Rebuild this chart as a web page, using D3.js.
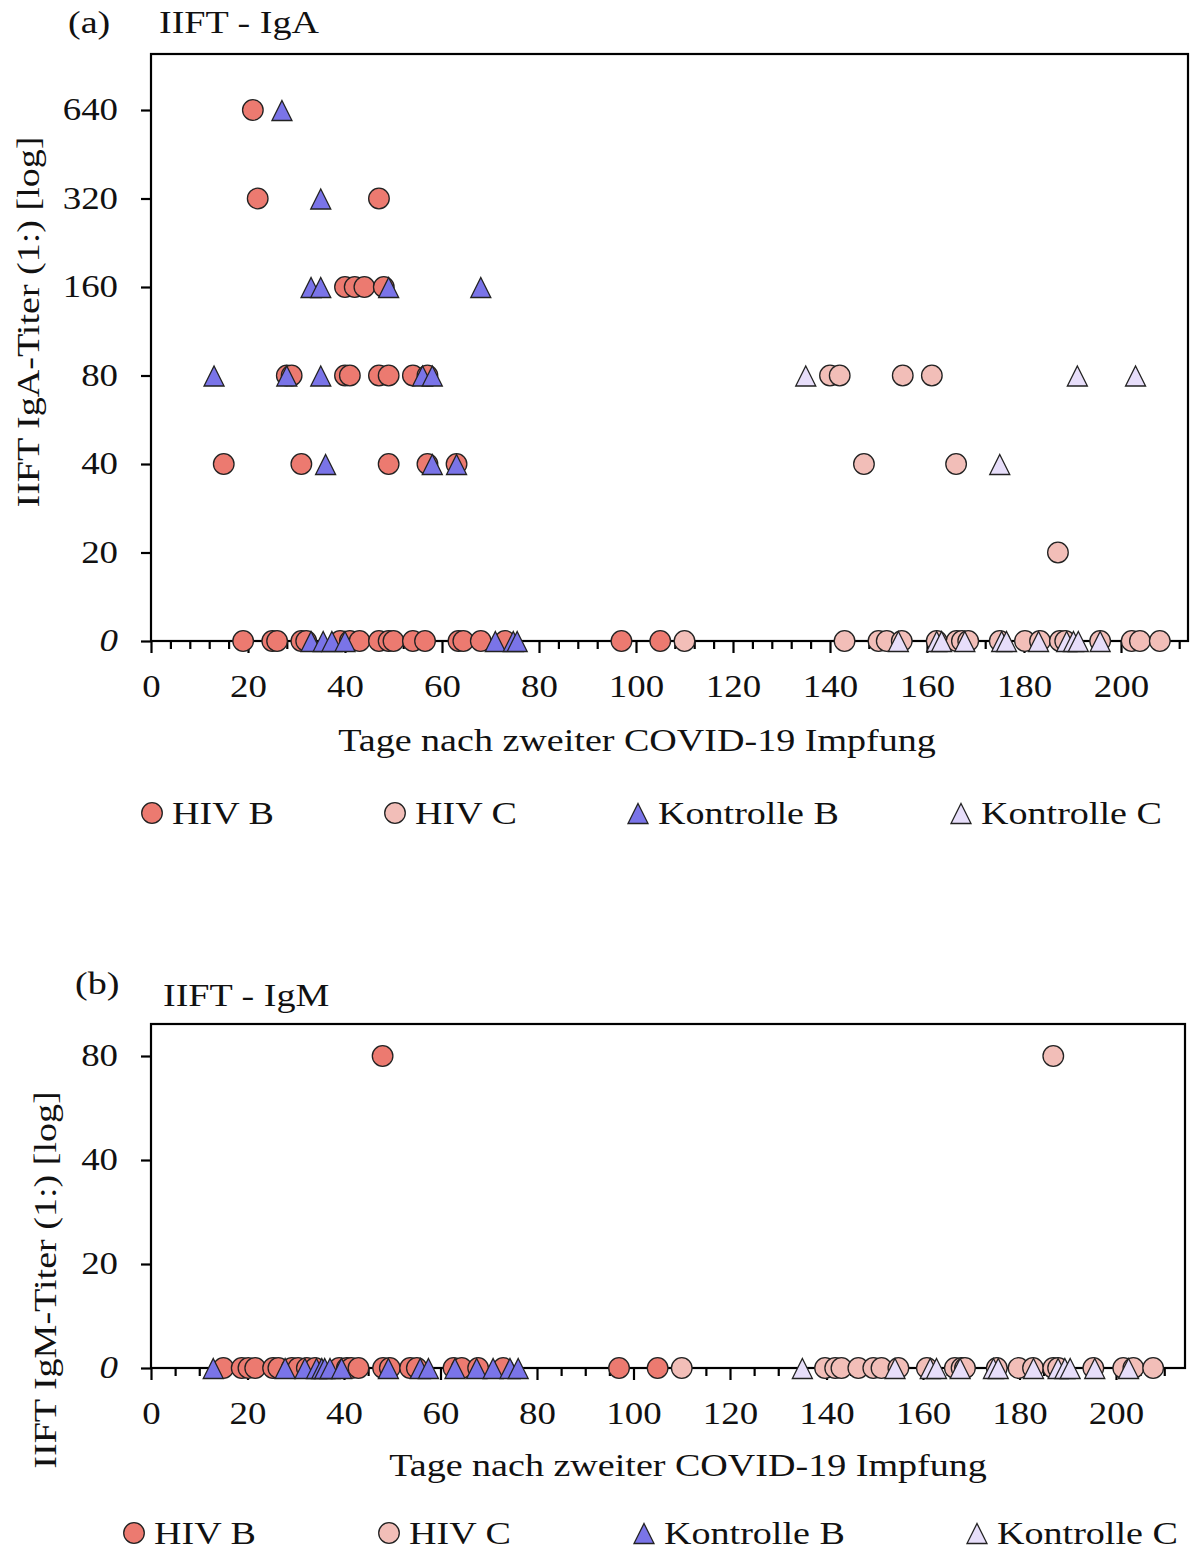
<!DOCTYPE html>
<html>
<head>
<meta charset="utf-8">
<script src="https://cdn.jsdelivr.net/npm/d3@7"></script>
<style>
  body { margin: 0; background: #fff; }
  svg { display: block; }
  text { font-family: "Liberation Serif", "DejaVu Serif", serif; fill: #111; }
</style>
</head>
<body>
<svg id="chart" width="1194" height="1551"></svg>
<script>
// Groups and their marker styles
const categories = ["HIV B", "HIV C", "Kontrolle B", "Kontrolle C"];
const groupColors = ["#EC7A70", "#F2BEB8", "#7A74E8", "#E7DEFA"];
const groupShapes = ["circle", "circle", "triangle", "triangle"];

// Axis tick values
const titerTicksA = [0, 20, 40, 80, 160, 320, 640];
const titerTicksB = [0, 20, 40, 80];
const dayTicks = [0, 20, 40, 60, 80, 100, 120, 140, 160, 180, 200];

// IgA titers: [day after second vaccination, titer]
const igaHivB = [
  [21, 640], [22, 320], [47, 320], [40, 160], [42, 160], [44, 160], [48, 160],
  [28, 80], [29, 80], [40, 80], [41, 80], [47, 80], [49, 80], [54, 80], [57, 80],
  [15, 40], [31, 40], [49, 40], [57, 40], [63, 40],
  [19, 0], [25, 0], [26, 0], [31, 0], [32, 0], [39, 0], [41, 0], [43, 0], [47, 0], [49, 0],
  [50, 0], [54, 0], [56.5, 0], [63.4, 0], [64.4, 0], [68, 0], [73, 0], [97, 0], [105, 0]
];
const igaHivC = [
  [140, 80], [142, 80], [155, 80], [161, 80], [147, 40], [166, 40], [187, 20],
  [110, 0], [143, 0], [150, 0], [151.7, 0], [154.8, 0], [162, 0], [166.1, 0], [167.2, 0],
  [168.5, 0], [175, 0], [180.2, 0], [183.3, 0], [187.4, 0], [188.5, 0], [195.7, 0],
  [202.2, 0], [203.9, 0], [208, 0]
];
const igaKontrolleB = [
  [27, 640], [35, 320], [33, 160], [35, 160], [49, 160], [68, 160],
  [13, 80], [28, 80], [35, 80], [56, 80], [58, 80], [36, 40], [58, 40], [63, 40],
  [33, 0], [35.5, 0], [37.3, 0], [40, 0], [71, 0], [74.7, 0], [75.5, 0]
];
const igaKontrolleC = [
  [135, 80], [191, 80], [203, 80], [175, 40],
  [154.1, 0], [162, 0], [163, 0], [167.8, 0], [175.4, 0], [176.4, 0], [183, 0],
  [188.8, 0], [190.2, 0], [191.2, 0], [195.7, 0]
];

// IgM titers: [day after second vaccination, titer]
const igmHivB = [
  [48, 80],
  [15, 0], [18.8, 0], [20.2, 0], [21.6, 0], [25.3, 0], [26.4, 0], [29.2, 0], [30.5, 0],
  [32.3, 0], [34, 0], [39, 0], [40.6, 0], [41.5, 0], [43, 0], [48.1, 0], [49.5, 0],
  [53.7, 0], [55.1, 0], [62.7, 0], [64.4, 0], [67.8, 0], [73, 0], [97, 0], [105, 0]
];
const igmHivC = [
  [187, 80],
  [110, 0], [139.7, 0], [141.8, 0], [143.1, 0], [146.6, 0], [149.7, 0], [151.4, 0],
  [154.9, 0], [160.8, 0], [166.6, 0], [168, 0], [168.7, 0], [175.3, 0], [179.8, 0],
  [182.8, 0], [187, 0], [188, 0], [195.3, 0], [201.5, 0], [203.6, 0], [207.7, 0]
];
const igmKontrolleB = [
  [12.9, 0], [27.8, 0], [31.9, 0], [34.3, 0], [35.4, 0], [36, 0], [37.1, 0], [39.5, 0],
  [49.2, 0], [55.8, 0], [57.5, 0], [63, 0], [67.5, 0], [70.9, 0], [74.4, 0], [76.1, 0]
];
const igmKontrolleC = [
  [135, 0], [154.2, 0], [161.5, 0], [162.8, 0], [167.7, 0], [174.6, 0], [175.6, 0],
  [182.9, 0], [188, 0], [189.4, 0], [190.5, 0], [195.6, 0], [202.6, 0]
];

// Titer dilution steps: 0 sits on the axis, 20 is the first step, each doubling one step up
const level = v => (v === 0 ? 0 : Math.log2(v / 10));

const svg = d3.select("#chart");
const FS = 31;      // font size
const SX = 1.19;    // horizontal widening of the serif lettering

function markerPath(shape) {
  if (shape === "circle") {
    return d3.symbol(d3.symbolCircle, Math.PI * 10.3 * 10.3)();
  }
  return "M0,-9.5L10,10.5L-10,10.5Z";
}

// Text placed at (x, y) and widened around its anchor
function label(g, x, y, str, opts = {}) {
  const rot = opts.rotate ? ` rotate(${opts.rotate})` : "";
  return g.append("text")
    .attr("transform", `translate(${x},${y})${rot} scale(${SX},1)`)
    .attr("text-anchor", opts.anchor || "start")
    .attr("dy", opts.dy || null)
    .attr("font-size", opts.size || FS + 1)
    .text(str);
}

function drawPanel(cfg) {
  const g = svg.append("g");
  const x = d3.scaleLinear().domain([0, cfg.xMax]).range([cfg.left, cfg.right]);
  const y = d3.scaleLinear().domain([0, cfg.levelMax]).range([cfg.zeroY, cfg.top]);

  // Frame
  g.append("rect")
    .attr("x", cfg.left).attr("y", cfg.top)
    .attr("width", cfg.right - cfg.left).attr("height", cfg.zeroY - cfg.top)
    .attr("fill", "none").attr("stroke", "#000").attr("stroke-width", 2.2);

  // Minor x ticks
  const minors = d3.range(0, cfg.xMax, cfg.minorStep).filter(d => d % 20 !== 0);
  const minorAxis = g.append("g").attr("transform", `translate(0,${cfg.zeroY})`)
    .call(d3.axisBottom(x).tickValues(minors).tickSize(8).tickFormat(""));
  minorAxis.select(".domain").remove();

  // Major x ticks with labels
  const xAxis = g.append("g").attr("transform", `translate(0,${cfg.zeroY})`)
    .call(d3.axisBottom(x).tickValues(dayTicks).tickSize(12).tickPadding(22)
      .tickFormat(d3.format("d")));
  xAxis.select(".domain").remove();

  [minorAxis, xAxis].forEach(a => a.selectAll("line").attr("stroke", "#000").attr("stroke-width", 2.2));
  xAxis.selectAll("text")
    .style("font-family", "Liberation Serif, serif")
    .attr("font-size", FS).attr("fill", "#111")
    .attr("transform", `scale(${SX},1)`);

  // Y axis with titer labels
  const pad = 23, tick = 10;
  const yAxis = g.append("g").attr("transform", `translate(${cfg.left},0)`)
    .call(d3.axisLeft(y).tickValues(cfg.titers.map(level)).tickSize(tick).tickPadding(pad)
      .tickFormat((d, i) => String(cfg.titers[i])));
  yAxis.select(".domain").remove();
  yAxis.selectAll("line").attr("stroke", "#000").attr("stroke-width", 2.2);
  yAxis.selectAll("text")
    .style("font-family", "Liberation Serif, serif")
    .attr("font-size", FS).attr("fill", "#111")
    .attr("x", -(pad + tick) / SX)
    .attr("transform", `scale(${SX},1)`)
    .attr("font-style", (d, i) => (cfg.titers[i] === 0 ? "italic" : "normal"));

  // Points: circles first, triangles on top
  cfg.series.forEach((data, gi) => {
    const sorted = data.slice().sort((a, b) => a[0] - b[0]);
    g.append("g").selectAll("path").data(sorted).join("path")
      .attr("d", markerPath(groupShapes[gi]))
      .attr("transform", d => `translate(${x(d[0])},${y(level(d[1]))})`)
      .attr("fill", groupColors[gi])
      .attr("stroke", "#222").attr("stroke-width", 1.3);
  });

  // Panel letter and title
  label(g, cfg.letterX, cfg.letterY, cfg.letter);
  label(g, cfg.titleX, cfg.titleY, cfg.title);

  // Axis titles
  label(g, cfg.yTitleX, cfg.yTitleY, cfg.yTitle, { rotate: -90, anchor: "middle", dy: "0.35em" });
  label(g, cfg.xTitleX, cfg.xTitleY, "Tage nach zweiter COVID-19 Impfung", { anchor: "middle", dy: "0.35em" });

  // Legend
  const leg = g.append("g");
  categories.forEach((name, gi) => {
    const lx = cfg.legendX[gi];
    leg.append("path")
      .attr("d", markerPath(groupShapes[gi]))
      .attr("transform", `translate(${lx},${cfg.legendY})`)
      .attr("fill", groupColors[gi]).attr("stroke", "#222").attr("stroke-width", 1.3);
    label(leg, lx + 20, cfg.legendY, name, { dy: "0.35em" });
  });
}

drawPanel({
  left: 151, right: 1188, top: 54, zeroY: 641,
  xMax: (1188 - 151) / 4.85, levelMax: (641 - 54) / 88.5, minorStep: 4,
  titers: titerTicksA,
  series: [igaHivB, igaHivC, igaKontrolleB, igaKontrolleC],
  letter: "(a)", letterX: 68, letterY: 33,
  title: "IIFT - IgA", titleX: 159, titleY: 33,
  yTitle: "IIFT IgA-Titer (1:) [log]", yTitleX: 28, yTitleY: 322,
  xTitleX: 637, xTitleY: 740,
  legendX: [152, 395, 638, 961], legendY: 813
});

drawPanel({
  left: 151, right: 1185, top: 1024, zeroY: 1368,
  xMax: (1185 - 151) / 4.825, levelMax: (1368 - 1024) / 104, minorStep: 5,
  titers: titerTicksB,
  series: [igmHivB, igmHivC, igmKontrolleB, igmKontrolleC],
  letter: "(b)", letterX: 75, letterY: 994,
  title: "IIFT - IgM", titleX: 163, titleY: 1006,
  yTitle: "IIFT IgM-Titer (1:) [log]", yTitleX: 45, yTitleY: 1280,
  xTitleX: 688, xTitleY: 1465,
  legendX: [134, 389, 644, 977], legendY: 1533
});
</script>
</body>
</html>
